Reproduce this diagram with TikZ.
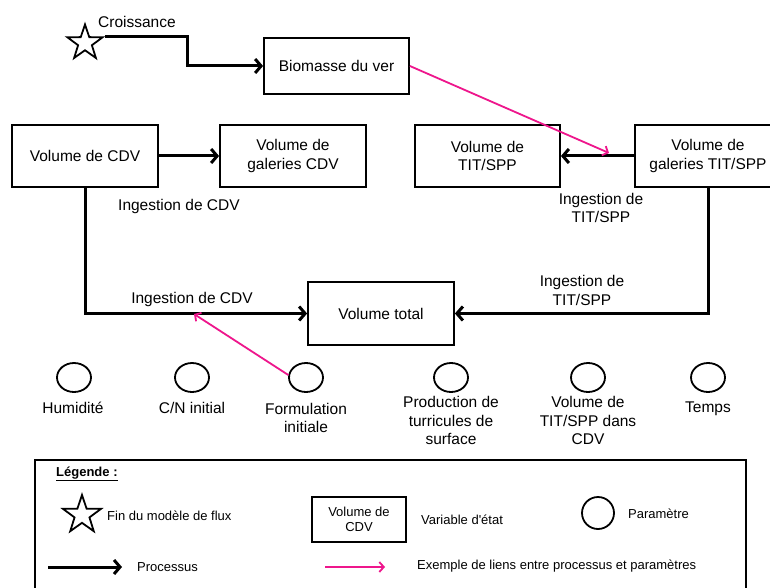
\documentclass[tikz,border=0pt]{standalone}
\usepackage{fontspec}
\setmainfont{Liberation Sans}
\usetikzlibrary{arrows.meta,shapes.geometric}
\definecolor{pinkc}{RGB}{238,22,140}
\begin{document}
\begin{tikzpicture}[x=1pt,y=-1pt,
  box/.style={draw, line width=1.8pt, inner sep=0pt, align=center, font=\fontsize{15.5}{18.5}\selectfont},
  proc/.style={line width=3pt, -{Straight Barb[length=6pt,width=14pt]}},
  link/.style={draw=pinkc, line width=1.8pt, -{Straight Barb[length=4.5pt,width=10pt]}},
  param/.style={draw, ellipse, line width=1.8pt, minimum width=34pt, minimum height=29pt, inner sep=0pt},
  lbl/.style={font=\fontsize{15.5}{18.5}\selectfont, align=center, inner sep=0pt},
  leg/.style={font=\fontsize{13}{15.5}\selectfont, inner sep=0pt},
  starshape/.style={draw, star, star points=5, star point ratio=2.55, line width=1.8pt, inner sep=0pt, minimum size=37pt}
]
\useasboundingbox (0,0) rectangle (770,588);
\fill[white] (0,0) rectangle (770,588);

% top
\node[starshape] (st) at (85,43) {};
\node[lbl, anchor=west] (cro) at (98,22) {Croissance};
\node[box, minimum width=145pt, minimum height=56pt] (bio) at (336.5,66) {Biomasse du ver};
\node[box, minimum width=146pt, minimum height=62pt] (cdv) at (85,156) {Volume de CDV};
\node[box, minimum width=146pt, minimum height=62pt] (gcdv) at (293,156) {Volume de\\galeries CDV};
\node[box, minimum width=145pt, minimum height=62pt] (tit) at (487.5,156) {Volume de\\TIT/SPP};
\node[box, minimum width=146pt, minimum height=62pt] (gtit) at (708,156) {Volume de\\galeries TIT/SPP};
\node[box, minimum width=146pt, minimum height=63pt] (tot) at (381,313.5) {Volume total};

\draw[proc] (st.outer point 5) -- ++(82,0) |- (bio.west);
\draw[proc] (cdv.east) -- (gcdv.west);
\draw[proc] (gtit.west) -- (tit.east);
\draw[proc] (cdv.south) |- (tot.west);
\draw[proc] (gtit.south) |- (tot.east);

\node[lbl, anchor=west] (l1) at (118,206) {Ingestion de CDV};
\node[lbl] (l2) at (192,299) {Ingestion de CDV};
\node[lbl] (l3) at (601,208) {Ingestion de\\TIT/SPP};
\node[lbl] (l4) at (582,290.5) {Ingestion de\\TIT/SPP};

% parameters
\node[param] (p1) at (74,377.5) {};
\node[param] (p2) at (192,377.5) {};
\node[param] (p3) at (306,377.5) {};
\node[param] (p4) at (451,377.5) {};
\node[param] (p5) at (588,377.5) {};
\node[param] (p6) at (708,377.5) {};
\node[lbl, anchor=base] (q1) at (73,413.5) {Humidité};
\node[lbl, anchor=base] (q2) at (192,413.5) {C/N initial};
\node[lbl, anchor=base] (q3) at (306,432.5) {Formulation\\initiale};
\node[lbl, anchor=base] (q4) at (451,444.5) {Production de\\turricules de\\surface};
\node[lbl, anchor=base] (q5) at (588,444.5) {Volume de\\TIT/SPP dans\\CDV};
\node[lbl, anchor=base] (q6) at (708,412.5) {Temps};

% links
\coordinate (t1) at (609,153);
\draw[link] (bio.east) -- (t1);
\coordinate (t2) at (194,314);
\draw[link] (p3.172) -- (t2);

% legend
\node[draw, line width=1.8pt, minimum width=711pt, minimum height=160pt, inner sep=0pt] (legbox) at (390.5,540) {};
\node[leg, anchor=west, font=\fontsize{13}{15.5}\selectfont\bfseries] (lt) at (56,474) {\underline{Légende :}};
\node[starshape, minimum size=40pt] (ls) at (82,515) {};
\node[leg, anchor=west] (lst) at (107,516) {Fin du modèle de flux};
\node[box, font=\fontsize{13}{15.5}\selectfont, minimum width=94pt, minimum height=45pt] (lb) at (359,519.5) {Volume de\\CDV};
\node[leg, anchor=west] (lbt) at (421,520) {Variable d\textquotesingle état};
\node[param, minimum width=32pt, minimum height=32pt] (lc) at (598,513) {};
\node[leg, anchor=west] (lct) at (628,514) {Paramètre};
\coordinate (la1) at (48,567);
\coordinate (la2) at (122,567);
\draw[proc] (la1) -- (la2);
\node[leg, anchor=west] (lat) at (137,567) {Processus};
\coordinate (lp1) at (325,567);
\coordinate (lp2) at (385,567);
\draw[link] (lp1) -- (lp2);
\node[leg, anchor=west] (lpt) at (417,566) {Exemple de liens entre processus et paramètres};
\end{tikzpicture}
\end{document}
